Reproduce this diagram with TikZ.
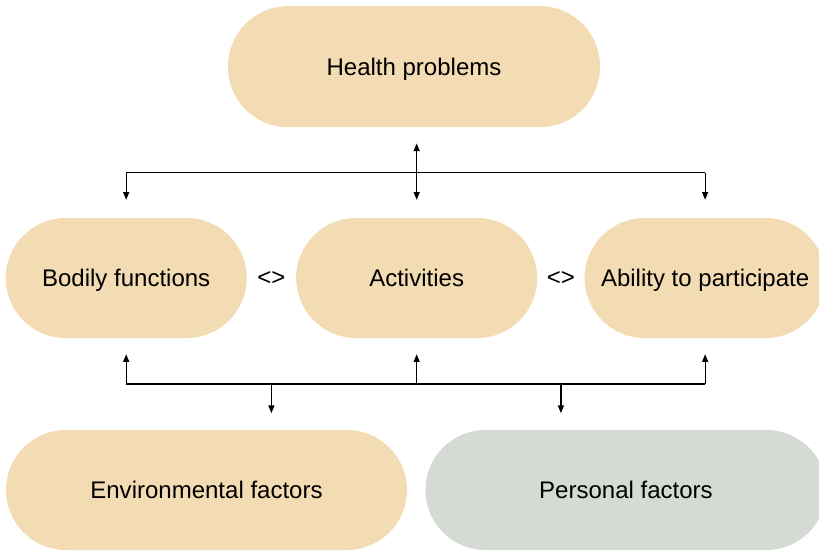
\documentclass[tikz,border=0pt]{standalone}
\usepackage{fontspec}
\setmainfont{Liberation Sans}
\usepackage{tikz}
\usetikzlibrary{arrows.meta,positioning,calc}
\definecolor{sand}{HTML}{F3DCB3}
\definecolor{sage}{HTML}{D5DBD4}

\begin{document}
\begin{tikzpicture}[node distance=1.47cm and 1.47cm,every node/.style={font=\fontsize{20.5}{24}\selectfont},
  pill/.style={fill=sand,rounded corners=1.8cm,minimum height=3.6cm,minimum width=7.23cm,inner sep=0pt,text depth=0pt},
  link/.style={line width=1.1pt,-{Triangle[length=2.3mm,width=1.8mm]}}]
\clip (0,0) rectangle (24.57,-16.5);
\node[pill,minimum width=11.16cm,minimum height=3.63cm] (hp) at (12.42,-2.0) {Health problems};
\node[pill] (act) at (12.5,-8.34) {Activities};
\node[pill,left=of act] (bf) {Bodily functions};
\node[pill,right=1.41cm of act] (ap) {Ability to participate};
\node[pill,minimum width=12.03cm] (env) at (6.195,-14.7) {Environmental factors};
\node[pill,fill=sage,minimum width=12.03cm,right=0.54cm of env] (pf) {Personal factors};
\node (l1) at ($(bf.east)!0.5!(act.west)$) {<>};
\node (l2) at ($(act.east)!0.5!(ap.west)$) {<>};
% top bus
\coordinate (tb) at ($(hp.south)!0.5!(act.north)$);
\draw[link,{Triangle[length=2.3mm,width=1.8mm]}-{Triangle[length=2.3mm,width=1.8mm]}] ([yshift=-0.48cm]hp.south -| act) -- ([yshift=0.54cm]act.north);
\draw[line width=1.1pt] (tb -| bf) -- (tb -| ap);
\draw[link] (tb -| bf) -- ([yshift=0.54cm]bf.north);
\draw[link] (tb -| ap) -- ([yshift=0.54cm]ap.north);
% bottom bus
\coordinate (bb) at ($(act.south)!0.5!(env.north)$);
\draw[line width=1.1pt] (bb -| bf) -- (bb -| ap);
\foreach \n in {bf,act,ap}
  \draw[link] (bb -| \n) -- ([yshift=-0.48cm]\n.south);
\foreach \n/\m in {l1/env,l2/pf}
  \draw[link] (bb -| \n) -- ([yshift=0.5cm]\m.north -| \n);
\end{tikzpicture}
\end{document}
